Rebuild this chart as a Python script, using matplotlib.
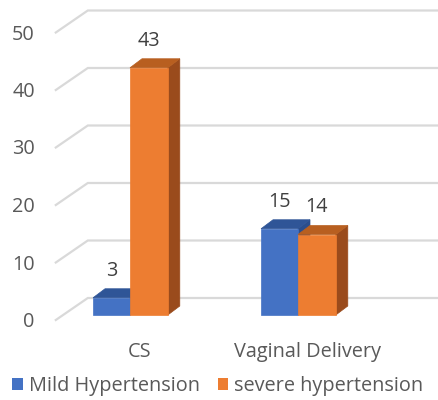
import matplotlib
matplotlib.use("Agg")
import matplotlib.pyplot as plt
from matplotlib.patches import Polygon, Patch
from matplotlib.transforms import IdentityTransform

plt.rcParams['font.family'] = ['Open Sans', 'DejaVu Sans']

# data
categories = ["CS", "Vaginal Delivery"]
series_names = ["Mild Hypertension", "severe hypertension"]
mild = [3, 15]
severe = [43, 14]
yticks = [0, 10, 20, 30, 40, 50]

front_cols = ["#4472C4", "#ED7D31"]
top_cols = ["#2F5597", "#B85F20"]
side_cols = ["#2B4E8C", "#9A4B1C"]

W, H, DPI = 438, 400, 100
fig = plt.figure(figsize=(W / DPI, H / DPI), dpi=DPI)
ax = fig.add_axes([0, 0, 1, 1])
ax.set_axis_off()
# 1 category step = 168 px, 1 value unit = 5.75 px, value 0 at 85 px from bottom
ax.set_xlim(-130 / 168, (W - 130) / 168)
ax.set_ylim(-85 / 5.75, (H - 85) / 5.75)

# pixel offsets relative to bar front faces
FRONT = (-7, -5)
BACK = (25, 17)
DEPTH = (12, 9)
bw = 0.22
plane_left = -0.4
fs = 14.3


def pt(x, v, off=(0, 0)):
    px, py = ax.transData.transform((x, v))
    return (px + off[0], py + off[1])


def poly(points, color, z):
    ax.add_patch(Polygon(points, closed=True, facecolor=color, edgecolor=color,
                         linewidth=0.5, transform=IdentityTransform(), zorder=z))


grid_col = "#D9D9D9"
for v in yticks:
    a = pt(plane_left, v, FRONT)
    b = pt(plane_left, v, BACK)
    c = pt(3.0, v, BACK)
    ax.plot([a[0], b[0], c[0]], [a[1], b[1], c[1]], color=grid_col, lw=1.6,
            transform=IdentityTransform(), zorder=1, solid_joinstyle="miter")
    ax.text(a[0] - 21, a[1] - 2, str(v), ha="right", va="center", fontsize=fs,
            color="#595959", transform=IdentityTransform())


def bar3d(x0, x1, v, k, z):
    f = [pt(x0, 0), pt(x1, 0), pt(x1, v), pt(x0, v)]
    top = [pt(x0, v), pt(x1, v), pt(x1, v, DEPTH), pt(x0, v, DEPTH)]
    side = [pt(x1, 0), pt(x1, 0, DEPTH), pt(x1, v, DEPTH), pt(x1, v)]
    poly(side, side_cols[k], z)
    poly(top, top_cols[k], z)
    poly(f, front_cols[k], z + 0.1)
    lx, ly = pt((x0 + x1) / 2, v)
    ax.text(lx, ly + 17, str(v), ha="center", va="bottom", fontsize=fs,
            color="#404040", transform=IdentityTransform(), zorder=10)


for i, cat in enumerate(categories):
    bar3d(i - bw, i, mild[i], 0, 3)
    bar3d(i, i + bw + 0.005, severe[i], 1, 4)
    cx, cy = pt(i, 0)
    ax.text(cx + 10, cy - 37, cat, ha="center", va="center", fontsize=fs,
            color="#595959", transform=IdentityTransform())

handles = [Patch(facecolor=front_cols[0]), Patch(facecolor=front_cols[1])]
fig.legend(handles, series_names, loc="center", bbox_to_anchor=(0.497, 14 / 400),
           ncol=2, frameon=False, fontsize=fs, handlelength=0.55, handleheight=0.55,
           handletextpad=0.3, columnspacing=0.9, labelcolor="#595959",
           borderaxespad=0, borderpad=0)

fig.savefig("out.png", dpi=DPI)
